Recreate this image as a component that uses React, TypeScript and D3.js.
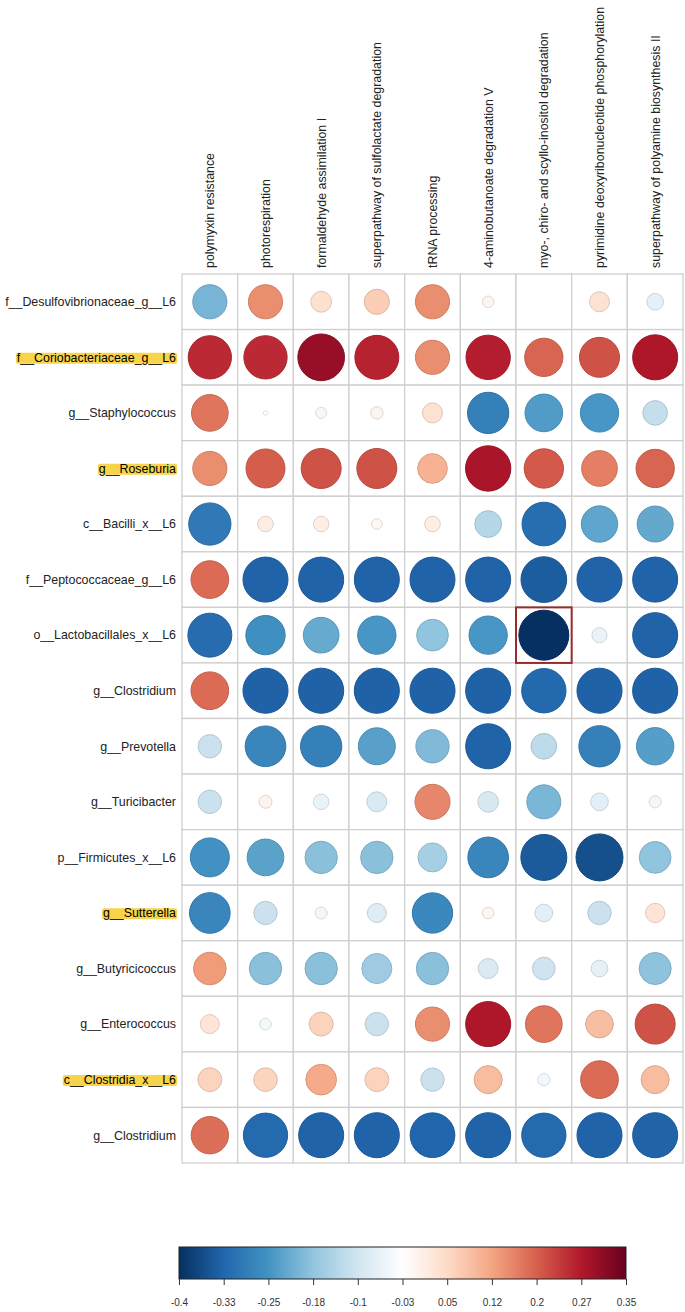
import React, { useEffect, useRef } from "react";
import * as d3 from "d3";

// column (pathway) labels
const pathways = [
  "polymyxin resistance",
  "photorespiration",
  "formaldehyde assimilation I",
  "superpathway of sulfolactate degradation",
  "tRNA processing",
  "4-aminobutanoate degradation V",
  "myo-, chiro- and scyllo-inositol degradation",
  "pyrimidine deoxyribonucleotide phosphorylation",
  "superpathway of polyamine biosynthesis II",
];

// row (taxa) labels
const taxa = [
  "f__Desulfovibrionaceae_g__L6",
  "f__Coriobacteriaceae_g__L6",
  "g__Staphylococcus",
  "g__Roseburia",
  "c__Bacilli_x__L6",
  "f__Peptococcaceae_g__L6",
  "o__Lactobacillales_x__L6",
  "g__Clostridium",
  "g__Prevotella",
  "g__Turicibacter",
  "p__Firmicutes_x__L6",
  "g__Sutterella",
  "g__Butyricicoccus",
  "g__Enterococcus",
  "c__Clostridia_x__L6",
  "g__Clostridium",
];

// rows that are highlighted in yellow
const highlighted = [1, 3, 11, 14];

// correlation values, one array per taxon (same order as pathways)
const r01 = [-0.2, 0.15, 0.04, 0.07, 0.15, -0.005, -0.025, 0.035, -0.067];
const r02 = [0.256, 0.256, 0.302, 0.265, 0.15, 0.27, 0.195, 0.215, 0.279];
const r03 = [0.177, -0.022, -0.043, -0.002, 0.035, -0.281, -0.238, -0.245, -0.116];
const r04 = [0.15, 0.203, 0.215, 0.215, 0.107, 0.283, 0.207, 0.166, 0.195];
const r05 = [-0.293, 0.012, 0.011, -0.008, 0.012, -0.132, -0.311, -0.223, -0.219];
const r06 = [0.188, -0.329, -0.329, -0.329, -0.329, -0.329, -0.338, -0.329, -0.329];
const r07 = [-0.315, -0.257, -0.216, -0.245, -0.176, -0.245, -0.4, -0.059, -0.329];
const r08 = [0.188, -0.33, -0.33, -0.33, -0.33, -0.33, -0.32, -0.33, -0.33];
const r09 = [-0.107, -0.273, -0.281, -0.23, -0.191, -0.329, -0.124, -0.281, -0.234];
const r10 = [-0.107, 0.0, -0.061, -0.085, 0.159, -0.089, -0.198, -0.072, -0.047];
const r11 = [-0.253, -0.227, -0.182, -0.182, -0.151, -0.273, -0.342, -0.356, -0.176];
const r12 = [-0.273, -0.107, -0.047, -0.079, -0.269, -0.005, -0.072, -0.107, 0.031];
const r13 = [0.135, -0.182, -0.182, -0.16, -0.182, -0.085, -0.102, -0.067, -0.179];
const r14 = [0.029, -0.045, 0.061, -0.107, 0.15, 0.279, 0.177, 0.09, 0.215];
const r15 = [0.061, 0.059, 0.116, 0.061, -0.107, 0.093, -0.047, 0.188, 0.093];
const r16 = [0.184, -0.319, -0.329, -0.329, -0.325, -0.329, -0.319, -0.329, -0.329];
const values = [r01, r02, r03, r04, r05, r06, r07, r08, r09, r10, r11, r12, r13, r14, r15, r16];

// the boxed cell [row, column]
const boxedCell = [6, 6];

// color bar
const legendMin = -0.4;
const legendMax = 0.35;
const legendLabels = ["-0.4", "-0.33", "-0.25", "-0.18", "-0.1", "-0.03", "0.05", "0.12", "0.2", "0.27", "0.35"];
const palette = ["#053061", "#2166AC", "#4393C3", "#92C5DE", "#D1E5F0", "#FFFFFF",
  "#FDDBC7", "#F4A582", "#D6604D", "#B2182B", "#67001F"];

const FONT = "'Liberation Sans', Arial, sans-serif";
const LABEL_SIZE = 12.4;

const CorrPlot = () => {
  const ref = useRef<SVGSVGElement>(null);

  useEffect(() => {
    const svg = d3.select(ref.current);
    svg.selectAll("*").remove();

    const left = 182, right = 683, top = 274, bottom = 1163;

    const x = d3.scaleBand<number>().domain(d3.range(pathways.length)).range([left, right]);
    const y = d3.scaleBand<number>().domain(d3.range(taxa.length)).range([top, bottom]);

    const stops = palette.map((_, i) => legendMin + (i * (legendMax - legendMin)) / (palette.length - 1));
    const color = d3.scaleLinear<string>().domain(stops).range(palette).interpolate(d3.interpolateRgb).clamp(true);

    // corrplot rescales around the middle of the range
    const mid = (legendMin + legendMax) / 2;
    const half = (legendMax - legendMin) / 2;
    const radius = d3.scaleSqrt().domain([0, half]).range([0, 25]);

    // grid cells
    const cells = svg.append("g");
    values.forEach((row, i) => {
      row.forEach((v, j) => {
        cells.append("rect")
          .attr("x", x(j)!)
          .attr("y", y(i)!)
          .attr("width", x.bandwidth())
          .attr("height", y.bandwidth())
          .attr("fill", "white")
          .attr("stroke", "#cfcfcf")
          .attr("stroke-width", 1.3);
      });
    });

    // circles
    const circles = svg.append("g");
    values.forEach((row, i) => {
      row.forEach((v, j) => {
        const fill = color(v);
        circles.append("circle")
          .attr("cx", x(j)! + x.bandwidth() / 2)
          .attr("cy", y(i)! + y.bandwidth() / 2)
          .attr("r", radius(Math.abs(v - mid)))
          .attr("fill", fill)
          .attr("stroke", d3.color(fill)!.darker(0.35).formatHex())
          .attr("stroke-width", 1);
      });
    });

    // boxed cell
    svg.append("rect")
      .attr("x", x(boxedCell[1])!)
      .attr("y", y(boxedCell[0])!)
      .attr("width", x.bandwidth())
      .attr("height", y.bandwidth())
      .attr("fill", "none")
      .attr("stroke", "#9a2b2b")
      .attr("stroke-width", 2);

    // row labels
    const rowLabels = svg.append("g");
    taxa.forEach((name, i) => {
      const g = rowLabels.append("g");
      const t = g.append("text")
        .attr("x", 176)
        .attr("y", y(i)! + y.bandwidth() / 2)
        .attr("dy", "0.35em")
        .attr("text-anchor", "end")
        .attr("font-family", FONT)
        .attr("font-size", LABEL_SIZE)
        .attr("fill", "#222")
        .text(name);
      if (highlighted.includes(i)) {
        const bb = (t.node() as SVGTextElement).getBBox();
        g.insert("rect", "text")
          .attr("x", bb.x - 1)
          .attr("y", bb.y + 2)
          .attr("width", bb.width + 2)
          .attr("height", bb.height - 3)
          .attr("rx", 2)
          .attr("fill", "#f8d44a");
        t.attr("fill", "#000");
      }
    });

    // column labels
    pathways.forEach((name, j) => {
      const cx = x(j)! + x.bandwidth() / 2;
      svg.append("text")
        .attr("transform", `translate(${cx},268) rotate(-90)`)
        .attr("dy", "0.35em")
        .attr("font-family", FONT)
        .attr("font-size", LABEL_SIZE)
        .attr("fill", "#222")
        .text(name);
    });

    // color legend
    const lx = d3.scaleLinear().domain([legendMin, legendMax]).range([179, 626]);
    const defs = svg.append("defs");
    const grad = defs.append("linearGradient").attr("id", "cbar").attr("x1", "0%").attr("x2", "100%");
    stops.forEach((s, i) => {
      grad.append("stop")
        .attr("offset", `${((s - legendMin) / (legendMax - legendMin)) * 100}%`)
        .attr("stop-color", palette[i]);
    });
    svg.append("rect")
      .attr("x", lx(legendMin))
      .attr("y", 1247)
      .attr("width", lx(legendMax) - lx(legendMin))
      .attr("height", 32)
      .attr("fill", "url(#cbar)")
      .attr("stroke", "#222")
      .attr("stroke-width", 1);

    const axis = d3.axisBottom(lx)
      .tickValues(stops)
      .tickFormat((_, i) => legendLabels[i])
      .tickSize(6)
      .tickPadding(14);
    const ax = svg.append("g").attr("transform", "translate(0,1279)").call(axis);
    ax.select(".domain").remove();
    ax.selectAll("line").attr("stroke", "#333");
    ax.selectAll("text").attr("font-family", FONT).attr("font-size", 10).attr("fill", "#333");
  }, []);

  return <svg ref={ref} width={685} height={1312} style={{ display: "block" }} />;
};

export default function App() {
  return (
    <div style={{ position: "absolute", left: 0, top: 0, background: "white" }}>
      <CorrPlot />
    </div>
  );
}
